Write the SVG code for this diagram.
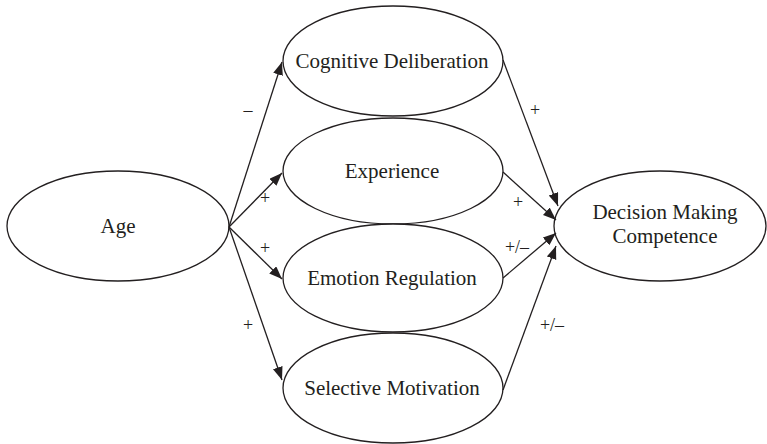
<svg xmlns="http://www.w3.org/2000/svg" width="767" height="444" viewBox="0 0 767 444">
  <style>
    .node ellipse { fill: #ffffff; stroke: #231f20; stroke-width: 1.3; }
    .node text { font-family: "Liberation Serif", "Times New Roman", serif; font-size: 21px; fill: #231f20; text-anchor: middle; }
    .edges line { stroke: #231f20; stroke-width: 1.3; marker-end: url(#arrow); }
    .lbl { font-family: "Liberation Serif", "Times New Roman", serif; font-size: 18px; fill: #231f20; text-anchor: middle; }
  </style>
  <defs>
    <marker id="arrow" markerUnits="userSpaceOnUse" markerWidth="14" markerHeight="12" refX="13" refY="5" orient="auto">
      <path d="M0,0 L13,5 L0,10 z" fill="#231f20"/>
    </marker>
  </defs>
  <rect width="767" height="444" fill="#ffffff"/>

  <g id="node-age" class="node">
    <ellipse cx="118" cy="226" rx="111" ry="55"/>
    <text x="118" y="233">Age</text>
  </g>
  <g id="node-cognitive" class="node">
    <ellipse cx="393" cy="61" rx="110" ry="55"/>
    <text x="392" y="68">Cognitive Deliberation</text>
  </g>
  <g id="node-experience" class="node">
    <ellipse cx="393" cy="171" rx="110" ry="53"/>
    <text x="392" y="178">Experience</text>
  </g>
  <g id="node-emotion" class="node">
    <ellipse cx="393" cy="278" rx="110" ry="54"/>
    <text x="392" y="285">Emotion Regulation</text>
  </g>
  <g id="node-selective" class="node">
    <ellipse cx="393" cy="388" rx="110" ry="55"/>
    <text x="392" y="395">Selective Motivation</text>
  </g>
  <g id="node-dmc" class="node">
    <ellipse cx="660" cy="226" rx="106" ry="55"/>
    <text x="665" y="219">Decision Making</text>
    <text x="665" y="243">Competence</text>
  </g>

  <g id="connectors" class="edges">
    <line x1="229" y1="227" x2="282" y2="62"/>
    <line x1="229" y1="227" x2="282" y2="173"/>
    <line x1="229" y1="227" x2="282" y2="279"/>
    <line x1="229" y1="227" x2="282" y2="380"/>
    <line x1="503" y1="60" x2="558" y2="206"/>
    <line x1="503" y1="172" x2="556" y2="220"/>
    <line x1="503" y1="278" x2="556" y2="233"/>
    <line x1="503" y1="390" x2="556" y2="246"/>
  </g>

  <g id="labels">
    <text class="lbl" x="248" y="116">–</text>
    <text class="lbl" x="265" y="204">+</text>
    <text class="lbl" x="265" y="254">+</text>
    <text class="lbl" x="248" y="331">+</text>
    <text class="lbl" x="535" y="116">+</text>
    <text class="lbl" x="518" y="208">+</text>
    <text class="lbl" x="517" y="253">+/–</text>
    <text class="lbl" x="552" y="331">+/–</text>
  </g>
</svg>
